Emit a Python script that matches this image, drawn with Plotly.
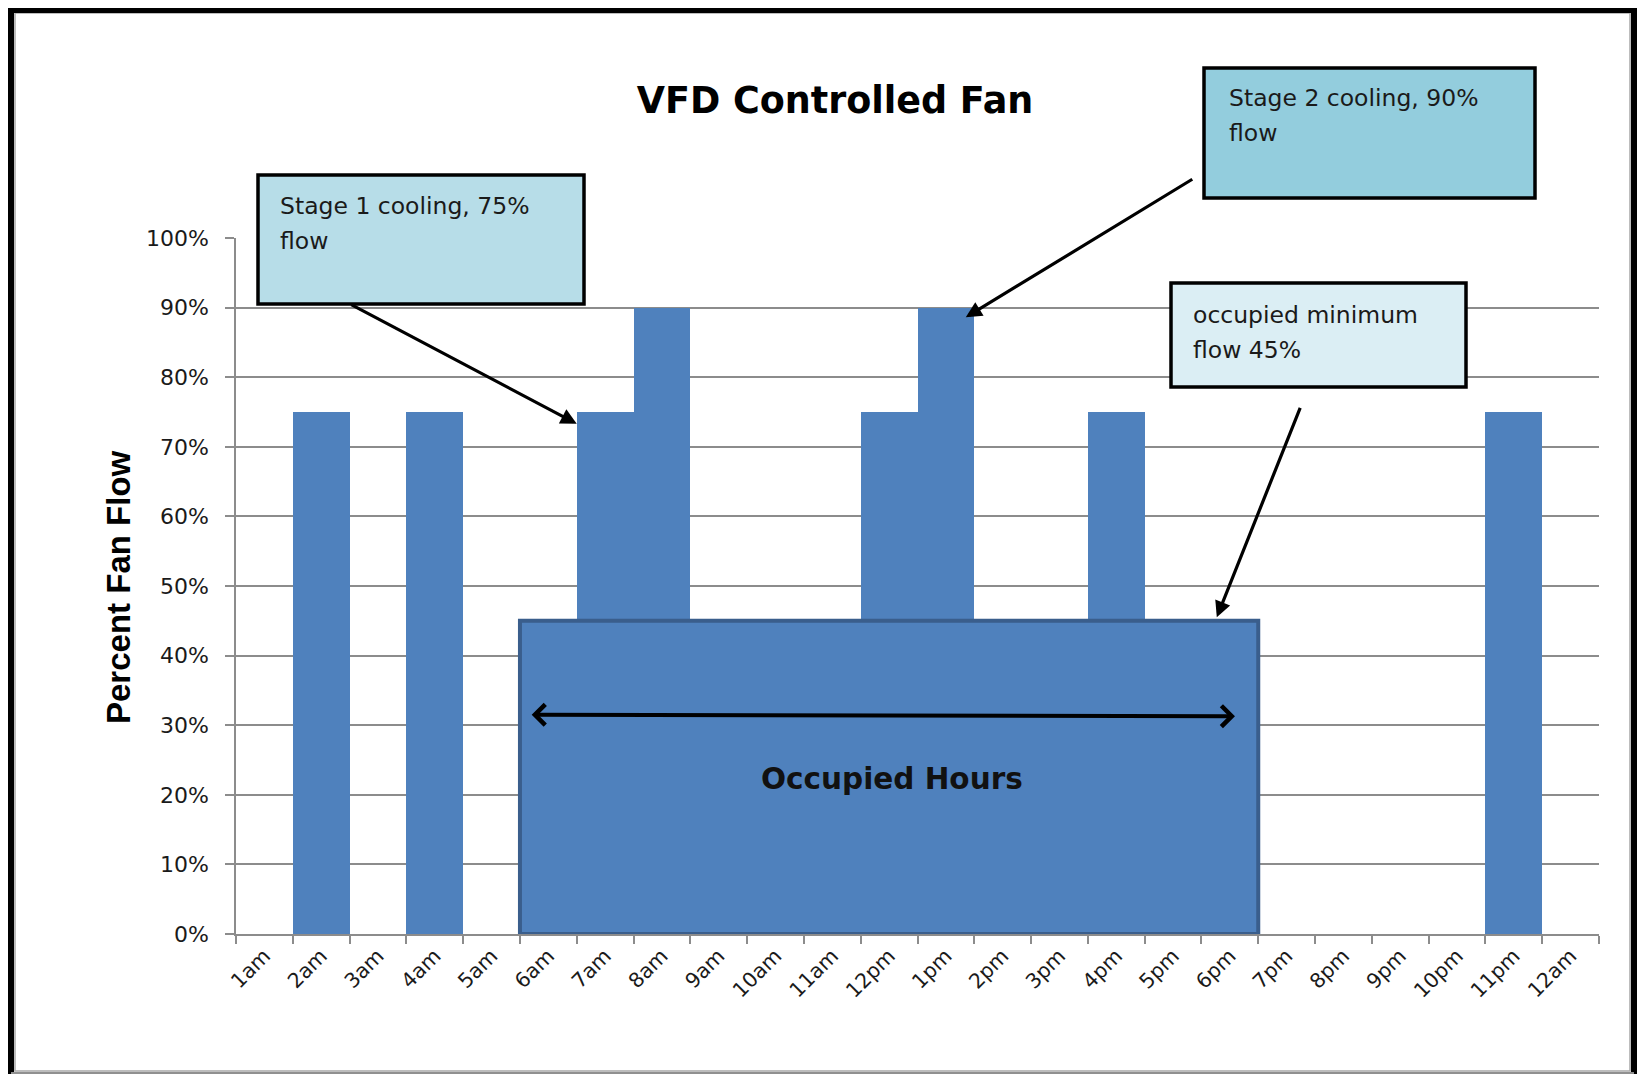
import plotly.graph_objects as go

# Hourly fan flow (percent of max)
hours = ["1am", "2am", "3am", "4am", "5am", "6am", "7am", "8am", "9am", "10am", "11am", "12pm",
         "1pm", "2pm", "3pm", "4pm", "5pm", "6pm", "7pm", "8pm", "9pm", "10pm", "11pm", "12am"]
fan_flow = [0, 75, 0, 75, 0, 45, 75, 90, 45, 45, 45, 75,
            90, 45, 45, 75, 45, 45, 0, 0, 0, 0, 75, 0]

occupied_start = "6am"
occupied_end = "6pm"
occupied_min_flow = 45

y_ticks = [0, 10, 20, 30, 40, 50, 60, 70, 80, 90, 100]

# callout boxes: (lines, fill colour)
callouts = [
    (["Stage 1 cooling, 75%", "flow"], "#b7dde8"),
    (["Stage 2 cooling, 90%", "flow"], "#93cddd"),
    (["occupied minimum", "flow 45%"], "#dbeef4"),
]

# page geometry (pixels), body margin of 8px is added by the browser
W, H = 1645, 1082
OFF = 8
L, R, T, B = 236, 1599, 238, 934
BAR_BLUE = "#4f81bd"
GRID = "#8c8c8c"
FONT = "DejaVu Sans"


def px(x):
    return (x - L) / (R - L)


def py(y):
    return (B - y) / (B - T)


fig = go.Figure()
fig.add_trace(go.Bar(
    x=hours, y=fan_flow,
    marker=dict(color=BAR_BLUE, line=dict(width=0)),
    showlegend=False, hoverinfo="x+y",
))

shapes = []
# occupied hours block
i0 = hours.index(occupied_start)
i1 = hours.index(occupied_end)
shapes.append(dict(type="rect", xref="x", yref="y", x0=i0 - 0.5, x1=i1 + 0.5, y0=0, y1=occupied_min_flow,
                   fillcolor=BAR_BLUE, line=dict(color="#3a5e8c", width=4), layer="above"))

# callout boxes (page pixel boxes)
box_px = [(258, 175, 584, 304), (1204, 68, 1535, 198), (1171, 283, 1466, 387)]
text_px = [(278, 206, 35), (1227, 98, 35), (1191, 315, 35)]
annotations = []
for (lines, fill), (x0, y0, x1, y1), (tx, ty, dy) in zip(callouts, box_px, text_px):
    shapes.append(dict(type="rect", xref="paper", yref="paper", x0=px(x0), x1=px(x1), y0=py(y1), y1=py(y0),
                       fillcolor=fill, line=dict(color="black", width=3.5), layer="above"))
    for k, line in enumerate(lines):
        annotations.append(dict(text=line, xref="paper", yref="paper", x=px(tx), y=py(ty + k * dy),
                                xanchor="left", yanchor="middle", showarrow=False,
                                font=dict(family=FONT, size=23.5, color="#1a1a1a")))

# outer frame
shapes.append(dict(type="rect", xref="paper", yref="paper", x0=px(15), x1=px(1630), y0=py(1071), y1=py(13),
                   line=dict(color="#a8a8a8", width=1.5), layer="below"))
for (xa, ya, xb, yb, c, w) in [(11, 8, 11, 1074, "black", 6), (8, 10, 1637, 10, "black", 6),
                               (1634, 8, 1634, 1074, "black", 6), (11, 1073, 1634, 1073, "#909090", 2)]:
    shapes.append(dict(type="line", xref="paper", yref="paper", x0=px(xa), x1=px(xb), y0=py(ya), y1=py(yb),
                       line=dict(color=c, width=w), layer="above"))

# arrows
arrow_style = dict(showarrow=True, text="", arrowcolor="black", arrowhead=2, arrowsize=1.0, arrowwidth=3.2)
annotations.append(dict(xref="x", yref="y", x=hours.index("7am") - 0.5, y=73.3, ax=-227, ay=-120, **arrow_style))
annotations.append(dict(xref="x", yref="y", x=hours.index("1pm") + 0.35, y=88.6, ax=228, ay=-139, **arrow_style))
annotations.append(dict(xref="x", yref="y", x=hours.index("5pm") + 0.77, y=45.5, ax=84, ay=-211, **arrow_style))
annotations.append(dict(xref="x", yref="y", x=i1 + 0.09, y=31.3, axref="x", ayref="y", ax=i0 - 0.32, ay=31.5,
                        showarrow=True, text="", arrowcolor="black", arrowhead=4, arrowside="end+start",
                        arrowsize=1.0, arrowwidth=4))
annotations.append(dict(xref="x", yref="y", x=11.05, y=22.3, text="<b>Occupied Hours</b>", showarrow=False,
                        xanchor="center", yanchor="middle",
                        font=dict(family=FONT, size=29.5, color="#111111")))

# y axis title
annotations.append(dict(xref="paper", yref="paper", x=px(118), y=py(587), text="<b>Percent Fan Flow</b>",
                        textangle=-90, showarrow=False, xanchor="center", yanchor="middle",
                        font=dict(family="Liberation Sans", size=33, color="black")))

fig.update_layout(
    width=W - 2 * OFF, height=H - 2 * OFF,
    margin=dict(l=L - OFF, r=W - R - OFF, t=T - OFF, b=H - B - OFF, pad=0),
    paper_bgcolor="white", plot_bgcolor="white",
    bargap=0,
    title=dict(text="<b>VFD Controlled Fan</b>", xref="paper", x=px(835), xanchor="center",
               y=1 - (100 - OFF) / (H - 2 * OFF), yanchor="middle", yref="container",
               font=dict(family=FONT, size=36.5, color="black")),
    font=dict(family=FONT, color="#1a1a1a"),
    xaxis=dict(type="category", tickson="boundaries", ticks="outside", ticklen=8, tickcolor=GRID, tickwidth=1.5,
               showline=True, linecolor=GRID, linewidth=1.5, showgrid=False, tickangle=-45,
               tickfont=dict(family=FONT, size=20.5, color="#1a1a1a"), range=[-0.5, len(hours) - 0.5]),
    yaxis=dict(range=[0, 100], tickvals=y_ticks, ticktext=[f"{v}%" for v in y_ticks],
               ticks="outside", ticklen=9, tickcolor=GRID, tickwidth=1.5,
               showline=True, linecolor=GRID, linewidth=1.5,
               showgrid=True, gridcolor=GRID, gridwidth=1.5, zeroline=False,
               ticklabelstandoff=12,
               tickfont=dict(family=FONT, size=22, color="#1a1a1a")),
    shapes=shapes,
    annotations=annotations,
)

fig.write_html("out.html")
